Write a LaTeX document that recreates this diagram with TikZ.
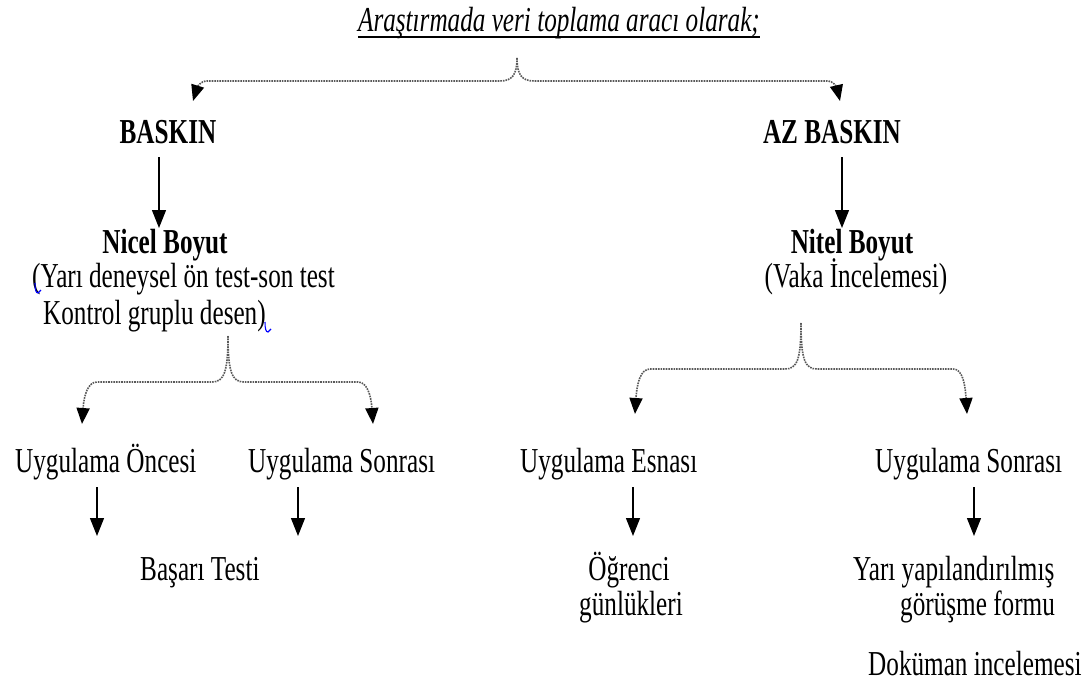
\documentclass[tikz,border=0pt]{standalone}
\usepackage{fontspec}
\setmainfont{Liberation Serif}[FakeStretch=0.72]
\usetikzlibrary{arrows.meta}
\begin{document}
\begin{tikzpicture}[x=1pt,y=-1pt,
  txt/.style={inner sep=0pt, font=\fontsize{35}{37}\selectfont},
  btxt/.style={txt, font=\fontsize{35}{37}\selectfont\bfseries},
  brace/.style={densely dotted, line width=1.6pt, color=black!65,
    -{Triangle[width=13pt,length=16pt,color=black]}},
  arr/.style={line width=1.2pt, -{Triangle[width=14pt,length=18pt]}},
  bluemark/.style={blue, line width=1.1pt}
]
\useasboundingbox (0,0) rectangle (1088,693);
\fill[white] (0,0) rectangle (1088,693);

% title
\node[txt, anchor=base, font=\fontsize{35}{37}\selectfont\itshape] (title) at (559,32) {Araştırmada veri toplama aracı olarak;};
\draw[line width=1.5pt] ([yshift=-5pt]title.base west) -- ([yshift=-5pt]title.base east);

% level 1
\node[btxt, anchor=base] (baskin) at (168,143) {BASKIN};
\node[btxt, anchor=base] (azbaskin) at (832,143) {AZ BASKIN};

% level 2
\node[btxt, anchor=base] (nicel) at (165,253) {Nicel Boyut};
\node[txt, anchor=base west] (nicel2) at (32,287) {(Yarı deneysel ön test-son test};
\node[txt, anchor=base west] (nicel3) at (43,324) {Kontrol gruplu desen)};
\node[btxt, anchor=base] (nitel) at (852,253) {Nitel Boyut};
\node[txt, anchor=base] (vaka) at (856,287) {(Vaka İncelemesi)};

% level 3
\node[txt, anchor=base west] (uo) at (15,472) {Uygulama Öncesi};
\node[txt, anchor=base west] (us1) at (248,472) {Uygulama Sonrası};
\node[txt, anchor=base west] (ue) at (520,472) {Uygulama Esnası};
\node[txt, anchor=base west] (us2) at (875,472) {Uygulama Sonrası};

% level 4
\node[txt, anchor=base west] (basari) at (140,580) {Başarı Testi};
\node[txt, anchor=base] (ogr1) at (629,580) {Öğrenci};
\node[txt, anchor=base] (ogr2) at (631,615) {günlükleri};
\node[txt, anchor=base west] (yari1) at (853,580) {Yarı yapılandırılmış};
\node[txt, anchor=base west] (yari2) at (900,615) {görüşme formu};
\node[txt, anchor=base west] (dok) at (868,675) {Doküman incelemesi};

% blue marks
\draw[bluemark] (35,283) .. controls (35,290) and (36,293) .. (38,293) -- (41,290);
\draw[bluemark] (265,322) .. controls (265,329) and (266,332) .. (268,332) -- (271,329);

% top brace
\coordinate (t0) at (517,58);
\coordinate (tl) at (193,101);
\coordinate (tr) at (840,101);
\draw[brace] (t0) .. controls (517,75) and (512,81) .. (500,81) -- (207,81) .. controls (200,81) and (197,88) .. (tl);
\draw[brace] (t0) .. controls (517,75) and (522,81) .. (534,81) -- (827,81) .. controls (834,81) and (837,88) .. (tr);

% left brace
\coordinate (b0) at (228,336);
\coordinate (bl) at (82,424);
\coordinate (br) at (373,424);
\draw[brace] (b0) .. controls (228,372) and (224,382) .. (212,382) -- (97,382) .. controls (88,382) and (84,395) .. (bl);
\draw[brace] (b0) .. controls (228,372) and (232,382) .. (244,382) -- (358,382) .. controls (367,382) and (371,395) .. (br);

% right brace
\coordinate (c0) at (801,323);
\coordinate (cl) at (635,414);
\coordinate (cr) at (967,414);
\draw[brace] (c0) .. controls (801,360) and (797,369) .. (785,369) -- (650,369) .. controls (641,369) and (637,382) .. (cl);
\draw[brace] (c0) .. controls (801,360) and (805,369) .. (817,369) -- (953,369) .. controls (962,369) and (965,382) .. (cr);

% vertical arrows
\coordinate (a1s) at (159,157); \coordinate (a1e) at (159,228);
\coordinate (a2s) at (842,157); \coordinate (a2e) at (842,228);
\coordinate (a3s) at (97,487);  \coordinate (a3e) at (97,536);
\coordinate (a4s) at (298,487); \coordinate (a4e) at (298,536);
\coordinate (a5s) at (633,487); \coordinate (a5e) at (633,536);
\coordinate (a6s) at (974,487); \coordinate (a6e) at (974,536);
\draw[arr] (a1s) -- (a1e);
\draw[arr] (a2s) -- (a2e);
\draw[arr] (a3s) -- (a3e);
\draw[arr] (a4s) -- (a4e);
\draw[arr] (a5s) -- (a5e);
\draw[arr] (a6s) -- (a6e);
\end{tikzpicture}
\end{document}
